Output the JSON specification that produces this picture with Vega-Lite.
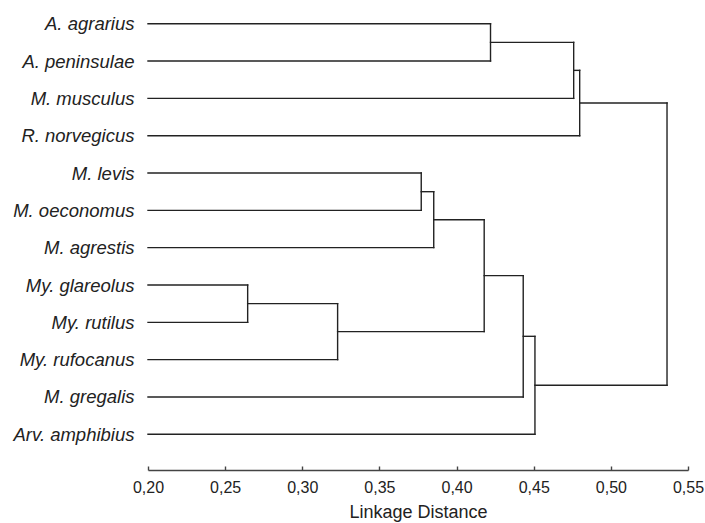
{
  "$schema": "https://vega.github.io/schema/vega-lite/v6.json",
  "width": 540,
  "height": 470,
  "autosize": {"type": "none"},
  "padding": {"left": 148, "top": 0, "right": 17, "bottom": 53},
  "background": "white",
  "config": {"view": {"stroke": null}, "font": "Liberation Sans"},
  "data": {"values": [
    {"x": 0.2, "x2": 0.422, "y": 0, "y2": 0},
    {"x": 0.2, "x2": 0.422, "y": 1, "y2": 1},
    {"x": 0.422, "x2": 0.422, "y": 0, "y2": 1},
    {"x": 0.422, "x2": 0.4759, "y": 0.5, "y2": 0.5},
    {"x": 0.2, "x2": 0.4759, "y": 2, "y2": 2},
    {"x": 0.4759, "x2": 0.4759, "y": 0.5, "y2": 2},
    {"x": 0.4759, "x2": 0.4798, "y": 1.25, "y2": 1.25},
    {"x": 0.2, "x2": 0.4798, "y": 3, "y2": 3},
    {"x": 0.4798, "x2": 0.4798, "y": 1.25, "y2": 3},
    {"x": 0.4798, "x2": 0.5364, "y": 2.125, "y2": 2.125},
    {"x": 0.2, "x2": 0.3771, "y": 4, "y2": 4},
    {"x": 0.2, "x2": 0.3771, "y": 5, "y2": 5},
    {"x": 0.3771, "x2": 0.3771, "y": 4, "y2": 5},
    {"x": 0.3771, "x2": 0.3852, "y": 4.5, "y2": 4.5},
    {"x": 0.2, "x2": 0.3852, "y": 6, "y2": 6},
    {"x": 0.3852, "x2": 0.3852, "y": 4.5, "y2": 6},
    {"x": 0.3852, "x2": 0.4179, "y": 5.25, "y2": 5.25},
    {"x": 0.2, "x2": 0.2646, "y": 7, "y2": 7},
    {"x": 0.2, "x2": 0.2646, "y": 8, "y2": 8},
    {"x": 0.2646, "x2": 0.2646, "y": 7, "y2": 8},
    {"x": 0.2646, "x2": 0.3229, "y": 7.5, "y2": 7.5},
    {"x": 0.2, "x2": 0.3229, "y": 9, "y2": 9},
    {"x": 0.3229, "x2": 0.3229, "y": 7.5, "y2": 9},
    {"x": 0.3229, "x2": 0.4179, "y": 8.25, "y2": 8.25},
    {"x": 0.4179, "x2": 0.4179, "y": 5.25, "y2": 8.25},
    {"x": 0.4179, "x2": 0.4432, "y": 6.75, "y2": 6.75},
    {"x": 0.2, "x2": 0.4432, "y": 10, "y2": 10},
    {"x": 0.4432, "x2": 0.4432, "y": 6.75, "y2": 10},
    {"x": 0.4432, "x2": 0.4508, "y": 8.375, "y2": 8.375},
    {"x": 0.2, "x2": 0.4508, "y": 11, "y2": 11},
    {"x": 0.4508, "x2": 0.4508, "y": 8.375, "y2": 11},
    {"x": 0.4508, "x2": 0.5364, "y": 9.6875, "y2": 9.6875},
    {"x": 0.5364, "x2": 0.5364, "y": 2.125, "y2": 9.6875}
  ]},
  "mark": {"type": "rule", "color": "#222222", "strokeWidth": 1.4, "strokeCap": "square"},
  "encoding": {
    "x": {"field": "x", "type": "quantitative",
      "scale": {"domain": [0.2, 0.55], "nice": false, "zero": false},
      "axis": {"title": "Linkage Distance", "values": [0.2, 0.25, 0.3, 0.35, 0.4, 0.45, 0.5, 0.55],
        "labelExpr": "replace(format(datum.value, '.2f'), '.', ',')",
        "grid": false, "domainColor": "#444", "domainWidth": 1.4, "tickColor": "#444", "tickWidth": 1.4, "tickSize": -4,
        "labelFontSize": 16, "labelColor": "#222", "labelPadding": 13, "labelFlush": false,
        "titleFontSize": 18, "titleFontWeight": "normal", "titleColor": "#222", "titlePadding": 8}},
    "x2": {"field": "x2"},
    "y": {"field": "y", "type": "quantitative",
      "scale": {"domain": [-0.635, 11.956], "reverse": true, "nice": false, "zero": false},
      "axis": {"title": null, "values": [0, 1, 2, 3, 4, 5, 6, 7, 8, 9, 10, 11],
        "labelExpr": "['A. agrarius', 'A. peninsulae', 'M. musculus', 'R. norvegicus', 'M. levis', 'M. oeconomus', 'M. agrestis', 'My. glareolus', 'My. rutilus', 'My. rufocanus', 'M. gregalis', 'Arv. amphibius'][datum.value]",
        "grid": false, "domain": false, "ticks": false, "labelFontStyle": "italic", "labelFontSize": 18.5,
        "labelColor": "#222", "labelPadding": 14, "labelFlush": false}},
    "y2": {"field": "y2"}
  }
}
